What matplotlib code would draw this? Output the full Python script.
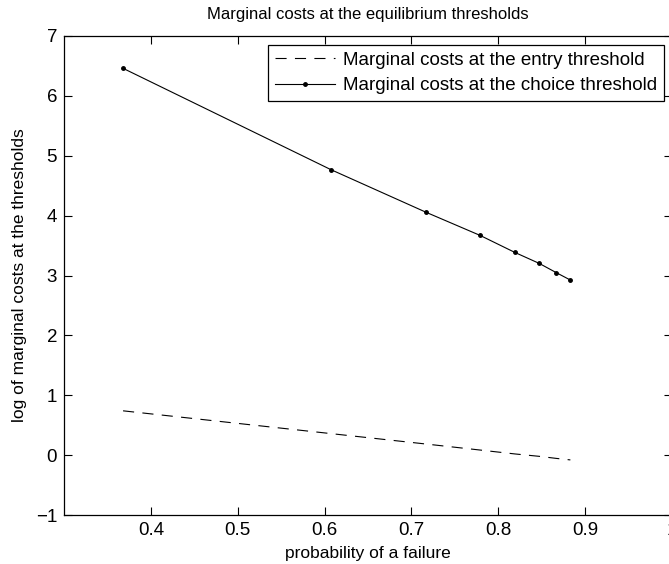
import matplotlib
matplotlib.use("Agg")
import matplotlib.pyplot as plt

plt.rcParams['font.family'] = ['Liberation Sans', 'DejaVu Sans']
plt.rcParams['lines.scale_dashes'] = False

# probability of a failure
prob_fail = [0.368, 0.607, 0.717, 0.779, 0.819, 0.847, 0.867, 0.883]
# log marginal costs
mc_entry = [0.74, 0.36, 0.185, 0.085, 0.02, -0.02, -0.055, -0.08]
mc_choice = [6.46, 4.77, 4.055, 3.67, 3.386, 3.203, 3.046, 2.924]

xticks = [0.4, 0.5, 0.6, 0.7, 0.8, 0.9, 1.0]
yticks = [-1, 0, 1, 2, 3, 4, 5, 6, 7]

W, H = 669, 564
fig = plt.figure(figsize=(W / 100, H / 100), dpi=100)
ax = fig.add_axes([64 / W, 49 / H, 608 / W, 479 / H])

ax.plot(prob_fail, mc_entry, color='black', linewidth=0.8, dashes=(8, 6),
        label='Marginal costs at the entry threshold')
ax.plot(prob_fail, mc_choice, color='black', linewidth=0.8, marker='o',
        markersize=2.5, label='Marginal costs at the choice threshold')

ax.set_xlim(0.3, 1.0)
ax.set_ylim(-1, 7)
ax.set_xticks(xticks)
ax.set_xticklabels(['0.4', '0.5', '0.6', '0.7', '0.8', '0.9', '1'])
ax.set_yticks(yticks)
ax.set_yticklabels(['\u22121' if v < 0 else str(v) for v in yticks])
ax.tick_params(direction='in', length=6, width=0.8, top=True, right=True,
               labelsize=13.5, pad=5)
for s in ax.spines.values():
    s.set_linewidth(0.9)

ax.set_title('Marginal costs at the equilibrium thresholds', fontsize=12, pad=12)
ax.set_xlabel('probability of a failure', fontsize=12.5, labelpad=5)
ax.set_ylabel('log of marginal costs at the thresholds', fontsize=12.5, labelpad=6)

leg = ax.legend(loc='upper right', bbox_to_anchor=(664 / W, 1 - 45 / H),
                bbox_transform=fig.transFigure, borderaxespad=0,
                fontsize=13.5, handlelength=3.2, handletextpad=0.45,
                borderpad=0.35, labelspacing=0.45, fancybox=False,
                framealpha=1, edgecolor='black')
leg.get_frame().set_linewidth(0.9)

fig.savefig('out.png', dpi=100)
